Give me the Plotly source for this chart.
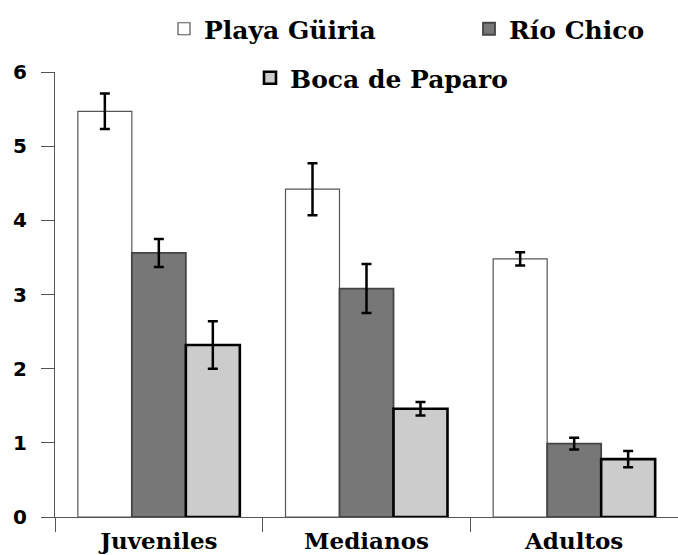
import plotly.graph_objects as go

categories = ["Juveniles", "Medianos", "Adultos"]
series_names = ["Playa Güiria", "Río Chico", "Boca de Paparo"]
playa_guiria = [5.47, 4.42, 3.48]
playa_guiria_err = [0.24, 0.35, 0.09]
rio_chico = [3.56, 3.08, 0.99]
rio_chico_err = [0.19, 0.33, 0.08]
boca_paparo = [2.32, 1.46, 0.78]
boca_paparo_err = [0.32, 0.09, 0.11]
y_ticks = [0, 1, 2, 3, 4, 5, 6]

W, H = 678, 555
ML, MR, MT, MB = 55, 0, 72, 38
PW, PH = W - ML - MR, H - MT - MB
leg_font = dict(family="DejaVu Serif", size=25, color="black", weight="bold")
cat_font = dict(family="DejaVu Serif", size=23, color="black", weight="bold")


def px_x(x):
    return (x - ML) / PW


def px_y(y):
    return (H - MB - y) / PH


fig = go.Figure()
styles = [
    dict(fill="#ffffff", line="#555555", lw=1.2, legend="legend"),
    dict(fill="#777777", line="#444444", lw=1.8, legend="legend2"),
    dict(fill="#cccccc", line="#000000", lw=2.6, legend="legend3"),
]
for name, vals, errs, st in zip(series_names,
                                [playa_guiria, rio_chico, boca_paparo],
                                [playa_guiria_err, rio_chico_err, boca_paparo_err],
                                styles):
    fig.add_trace(go.Bar(
        x=categories, y=vals, name=name,
        marker=dict(color=st["fill"], line=dict(color=st["line"], width=st["lw"])),
        error_y=dict(type="data", array=errs, visible=True, color="black",
                     thickness=2.5, width=5),
        legend=st["legend"], showlegend=True,
    ))

leg_common = dict(font=leg_font, bgcolor="rgba(0,0,0,0)", xref="paper", yref="paper",
                  xanchor="left", yanchor="middle", orientation="h")
fig.update_layout(
    width=W, height=H,
    showlegend=True,
    margin=dict(l=ML, r=MR, t=MT, b=MB, autoexpand=False),
    plot_bgcolor="white", paper_bgcolor="white",
    barmode="group", bargap=0.22, bargroupgap=0,
    legend=dict(x=px_x(164), y=px_y(29), **leg_common),
    legend2=dict(x=px_x(469), y=px_y(29), **leg_common),
    legend3=dict(x=px_x(250), y=px_y(78), **leg_common),
    xaxis=dict(
        range=[-0.5, 2.5], showline=True, linecolor="#555555", linewidth=1,
        ticks="outside", tickson="boundaries", ticklen=14, tickcolor="#555555",
        tickfont=cat_font, showgrid=False, automargin=False, ticklabelstandoff=3,
    ),
    yaxis=dict(
        range=[0, 6], tickvals=y_ticks, showline=True, linecolor="#555555", linewidth=1,
        ticks="outside", ticklen=13, tickcolor="#555555", showgrid=False, zeroline=False,
        tickfont=dict(family="DejaVu Sans", size=20, color="black", weight="bold"),
        ticklabelstandoff=10, automargin=False,
    ),
)

fig.write_html("out.html", config={"displayModeBar": False},
               post_script="document.body.style.margin='0';")
